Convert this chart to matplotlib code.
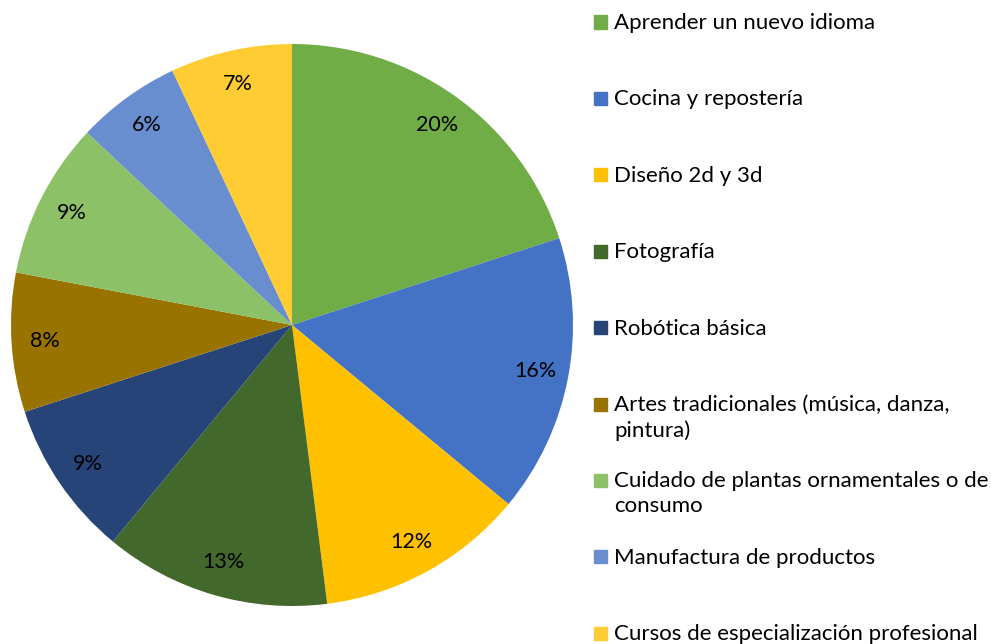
import matplotlib.pyplot as plt
from matplotlib.patches import Rectangle

# datos del gráfico
categorias = [
    'Aprender un nuevo idioma',
    'Cocina y repostería',
    'Diseño 2d y 3d',
    'Fotografía',
    'Robótica básica',
    'Artes tradicionales (música, danza,\npintura)',
    'Cuidado de plantas ornamentales o de\nconsumo',
    'Manufactura de productos',
    'Cursos de especialización profesional',
]
porcentajes = [20, 16, 12, 13, 9, 8, 9, 6, 7]
colores = ['#70AD47', '#4472C4', '#FFC000', '#43682B', '#264478',
           '#997300', '#8CC168', '#698ED0', '#FFCD33']

plt.rcParams['font.family'] = ['Lato', 'DejaVu Sans']

W, H = 991, 644
fig = plt.figure(figsize=(W / 100, H / 100), dpi=100)

# pastel
cx, cy, r = 292, 325, 281
ax = fig.add_axes([(cx - r) / W, (H - cy - r) / H, 2 * r / W, 2 * r / H])
wedges, textos, autotextos = ax.pie(
    porcentajes, colors=colores, startangle=90, counterclock=False,
    autopct='%d%%', pctdistance=0.88, radius=1,
    textprops=dict(fontsize=15.5, color='black'))
ax.set_xlim(-1, 1)
ax.set_ylim(-1, 1)
ax.set_aspect('equal')
ax.axis('off')

# leyenda manual
y0 = 22
paso = 76.4
for i, (cat, col) in enumerate(zip(categorias, colores)):
    y = y0 + i * paso
    fig.patches.append(Rectangle((594 / W, 1 - (y + 6.5) / H), 13 / W, 13 / H,
                                 transform=fig.transFigure, color=col))
    fig.text(614 / W, 1 - (y - 9) / H, cat, fontsize=16, va='top', ha='left',
             linespacing=1.3)

fig.savefig('out.png', dpi=100)
